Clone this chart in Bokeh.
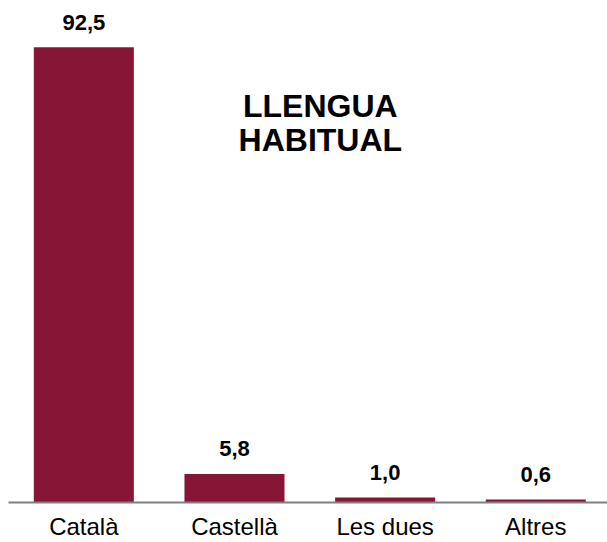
from bokeh.plotting import figure
from bokeh.models import ColumnDataSource, Range1d, FixedTicker, Label, LabelSet
from bokeh.core.properties import value
from bokeh.embed import file_html
from bokeh.resources import INLINE

categories = ["Català", "Castellà", "Les dues", "Altres"]
values = [92.5, 5.8, 1.0, 0.6]
value_labels = ["92,5", "5,8", "1,0", "0,6"]
title_lines = ["LLENGUA", "HABITUAL"]

BAR = "#871636"
FONT = "Liberation Sans"

xs = [i + 0.5 for i in range(len(categories))]
src = ColumnDataSource(dict(x=xs, top=values, lab=value_labels))

p = figure(width=607, height=542, output_backend="svg", toolbar_location=None,
           x_range=Range1d(0, 3.976), y_range=Range1d(0, 100.4),
           min_border_left=8, min_border_right=0, min_border_top=8,
           min_border_bottom=40, outline_line_color=None)

p.vbar(x="x", top="top", bottom=0, width=0.664, source=src,
       fill_color=BAR, line_color=None)

p.add_layout(LabelSet(x="x", y="top", text="lab", source=src,
                      text_align="center", text_baseline="middle", y_offset=25,
                      text_font=value(FONT), text_font_size="22px",
                      text_font_style="bold", text_color="black"))

for line, yv in zip(title_lines, [80.5, 73.6]):
    p.add_layout(Label(x=2.07, y=yv, text=line, text_align="center",
                       text_baseline="middle", text_font=FONT,
                       text_font_size="32px", text_font_style="bold",
                       text_color="black"))

p.yaxis.visible = False
p.xgrid.visible = False
p.ygrid.visible = False
p.xaxis.ticker = FixedTicker(ticks=xs)
p.xaxis.major_label_overrides = {x: c for x, c in zip(xs, categories)}
p.xaxis.axis_line_color = "#808080"
p.xaxis.axis_line_width = 2
p.xaxis.major_tick_line_color = None
p.xaxis.minor_tick_line_color = None
p.xaxis.major_tick_out = 0
p.xaxis.major_tick_in = 0
p.xaxis.major_label_standoff = 10
p.xaxis.major_label_text_font = FONT
p.xaxis.major_label_text_font_size = "24px"
p.xaxis.major_label_text_color = "black"

open("out.html", "w").write(file_html(p, INLINE))
